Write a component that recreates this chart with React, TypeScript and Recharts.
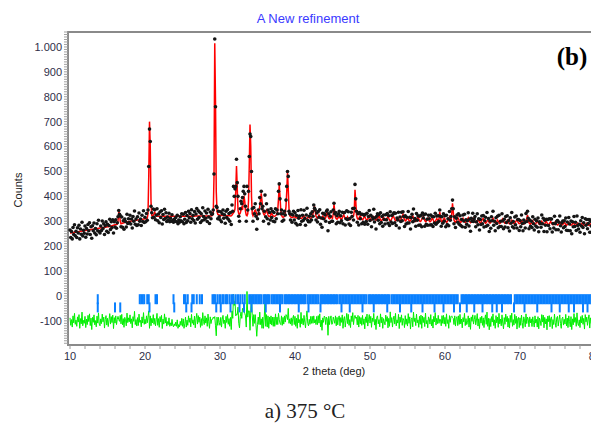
import React from 'react';
import { ComposedChart, Line, Scatter, XAxis, YAxis, ReferenceArea } from 'recharts';

// sampling grid of the pattern (2 theta, degrees)
const X_START = 10;
const X_STEP = 0.1;
const DIFF_OFFSET = -100;

// observed counts, one row per degree (10.0 .. 10.9, 11.0 .. 11.9, ...)
const observed = [
  265,235,259,229,275,247,286,242,260,235,
  274,253,284,229,269,248,296,241,264,252,
  281,236,271,249,287,262,294,247,278,232,
  282,262,293,253,271,246,290,262,304,259,
  253,281,263,301,271,290,247,282,298,260,
  288,255,283,308,267,298,275,306,253,298,
  277,306,272,294,318,343,328,322,278,317,
  276,302,268,309,299,277,328,291,310,295,
  324,289,309,273,319,300,341,288,309,283,
  318,286,333,300,309,283,324,299,342,295,
  316,298,331,304,345,520,670,620,360,334,
  314,349,316,346,306,325,350,302,329,294,
  337,315,342,289,327,307,348,311,334,299,
  317,305,332,298,312,300,326,303,296,308,
  300,315,298,324,290,305,296,318,302,330,
  298,328,290,308,335,295,323,302,340,314,
  331,296,346,310,324,303,339,293,329,351,
  308,342,315,336,295,330,302,354,319,306,
  341,312,333,299,348,317,291,337,310,328,
  330,345,490,1032,760,360,355,310,340,318,
  306,338,298,330,345,312,326,292,340,315,
  347,308,331,300,335,287,365,340,440,400,
  430,440,549,455,400,320,300,350,380,370,
  395,420,440,410,360,300,440,345,420,560,
  650,640,500,350,300,355,330,370,320,268,
  310,345,330,395,370,420,350,360,300,340,
  405,318,370,310,345,290,335,305,350,315,
  340,300,335,298,350,310,345,330,420,450,
  390,330,345,300,330,305,340,325,385,440,
  500,480,340,330,305,328,296,325,340,305,
  334,292,323,285,343,312,321,287,346,300,
  324,303,344,311,284,325,352,304,298,320,
  298,330,305,338,320,365,352,345,305,333,
  297,339,316,346,288,313,276,332,310,330,
  325,300,340,345,262,330,295,320,338,300,
  300,345,372,330,335,290,322,296,330,340,
  294,322,302,336,290,334,335,285,310,342,
  307,338,289,311,283,336,319,351,305,352,
  448,390,340,296,330,285,335,310,328,290,
  328,296,324,288,328,299,332,288,319,343,
  303,324,278,317,309,348,297,314,269,320,
  330,304,327,290,334,295,319,280,325,307,
  289,326,306,331,292,322,283,338,297,323,
  291,329,334,294,332,283,313,305,336,273,
  317,299,336,302,338,319,279,322,289,316,
  293,339,293,316,269,314,328,298,349,302,
  311,280,331,304,322,284,320,285,324,278,
  333,313,326,280,329,288,308,284,324,310,
  285,325,286,319,279,318,293,332,288,321,
  295,322,300,345,320,280,318,292,330,300,
  322,278,324,287,310,282,339,304,319,350,
  385,350,290,318,275,312,325,296,330,288,
  322,283,307,278,325,301,328,276,306,288,
  302,334,281,309,260,312,300,332,299,309,
  319,278,298,330,286,310,265,307,287,321,
  290,323,277,302,316,280,335,284,311,259,
  301,272,318,302,340,284,300,262,314,291,
  320,274,324,279,300,279,330,301,270,308,
  277,319,295,322,274,303,261,314,292,335,
  278,299,273,317,286,321,273,307,307,263,
  303,278,325,291,262,305,294,273,331,299,
  340,312,270,305,280,300,275,318,290,265,
  308,281,302,276,313,258,298,291,276,325,
  290,312,259,304,284,308,258,307,283,310,
  270,309,309,257,291,273,320,290,266,300,
  303,266,296,321,282,257,294,301,274,302,
  279,313,264,297,263,315,289,262,301,250,
  298,278,319,279,296,263,321,283,269,288,
  256,302,281,315,275,294,250,310,284,307,
  270,291,307,256,300,281,308,265,295,285,
  300,
];

// calculated (refined) profile on the same grid
const calculated = [
  253,253,254,254,255,255,256,256,257,257,
  258,258,259,259,260,260,261,261,262,262,
  263,263,264,264,265,265,266,266,267,267,
  268,268,269,269,270,270,271,271,272,272,
  273,273,274,274,275,275,276,276,277,277,
  278,278,279,279,280,281,282,283,284,285,
  286,286,287,288,300,338,330,300,290,291,
  292,293,294,295,296,297,297,298,298,299,
  300,300,301,301,302,302,303,303,304,304,
  305,305,306,306,307,307,308,308,309,309,
  310,310,311,312,330,480,700,600,380,324,
  322,324,330,336,326,321,320,320,320,320,
  320,320,320,320,320,320,320,320,320,320,
  320,320,320,320,320,320,320,320,320,320,
  320,320,320,320,320,320,320,320,320,320,
  320,320,320,320,320,320,320,320,320,320,
  320,320,320,320,320,320,320,321,321,321,
  321,321,321,321,321,321,321,321,321,321,
  321,321,321,321,321,321,321,321,321,322,
  324,330,480,1015,780,420,340,328,326,325,
  324,324,323,323,323,323,323,322,322,322,
  322,322,322,322,321,322,325,330,334,338,
  350,420,522,430,345,330,328,332,345,360,
  345,375,402,380,340,325,322,330,380,520,
  688,600,400,330,322,330,340,345,338,330,
  325,330,345,360,385,412,380,345,330,325,
  330,340,345,335,325,320,320,318,330,332,
  325,322,320,320,322,325,330,345,390,446,
  400,345,325,318,316,318,320,330,360,420,
  495,430,350,322,318,316,315,315,318,320,
  316,314,313,315,318,320,316,313,312,312,
  315,320,322,316,312,311,312,315,318,314,
  312,312,315,320,330,345,360,340,320,315,
  312,318,325,318,312,310,314,320,316,311,
  310,315,325,338,320,312,310,312,318,314,
  312,330,368,340,315,310,308,312,316,320,
  314,309,308,312,320,326,318,310,308,312,
  318,312,307,306,310,316,322,318,320,340,
  426,380,325,312,308,310,318,322,315,308,
  306,310,316,320,312,306,305,309,315,318,
  312,306,304,306,312,318,314,308,304,306,
  310,316,322,314,306,303,304,310,316,311,
  305,303,308,314,320,312,305,302,304,310,
  316,322,315,307,302,303,309,314,310,304,
  302,305,312,320,328,316,306,301,303,308,
  314,310,303,300,302,308,316,322,314,305,
  300,299,304,312,318,310,302,299,301,308,
  314,320,312,303,298,300,306,312,308,301,
  298,300,306,313,308,300,297,299,305,311,
  306,300,310,338,315,300,297,302,308,313,
  308,300,296,298,305,312,318,310,302,330,
  372,340,305,298,296,300,308,315,310,302,
  296,295,300,306,312,305,298,295,297,303,
  309,314,306,298,294,296,302,308,312,304,
  297,294,295,301,307,302,296,293,296,302,
  308,311,304,296,292,294,300,306,301,295,
  292,295,301,307,312,303,296,292,293,299,
  305,300,294,291,293,299,306,310,302,295,
  291,292,298,304,299,293,290,292,298,304,
  300,294,290,291,296,302,306,299,293,290,
  291,296,302,298,292,289,291,297,303,310,
  325,305,294,289,288,292,298,302,296,290,
  288,290,296,301,296,290,287,289,295,300,
  295,289,287,290,296,300,294,288,286,289,
  294,299,293,288,286,288,293,298,292,287,
  285,287,292,297,293,287,285,286,291,296,
  292,287,284,286,290,295,291,286,284,285,
  290,294,290,285,283,285,289,293,288,284,
  283,285,289,293,289,284,283,285,288,292,
  288,284,283,285,288,291,288,286,286,288,
  289,
];

// Bragg reflection positions (2 theta), first row of tick marks
const braggMain = [
  13.7, 19.3, 19.5, 19.7, 19.9, 20.3, 20.5, 21.4, 21.6, 23.8, 25.2, 25.4, 25.7, 26.3, 26.5, 26.9, 27.3, 27.6,
  29.0, 29.2, 29.4, 29.7, 30.0, 30.3, 30.5, 30.8, 31.0, 31.3, 31.6, 31.8, 32.1, 32.4, 32.7, 33.0, 33.3,
  33.9, 34.1, 34.3, 34.5, 34.7, 34.9, 35.1, 35.3, 35.5, 35.8, 36.0, 36.2, 36.4, 36.6, 36.9, 37.1, 37.3, 37.5,
  37.7, 37.9, 38.1, 38.3, 38.6, 38.8, 39.0, 39.2, 39.4, 39.6, 39.8, 40.0, 40.2, 40.4, 40.6, 40.8, 41.0, 41.2,
  41.4, 41.7, 41.9, 42.1, 42.3, 42.5, 42.7, 42.9, 43.1, 43.4, 43.6, 43.8, 44.0, 44.2, 44.4, 44.6, 44.8, 45.0,
  45.2, 45.4, 45.6, 45.9, 46.1, 46.3, 46.5, 46.7, 46.9, 47.1, 47.3, 47.5, 47.7, 47.9, 48.1, 48.3, 48.5, 48.7,
  48.9, 49.1, 49.3, 49.5, 49.8, 50.0, 50.2, 50.4, 50.6, 50.8, 51.0, 51.2, 51.4, 51.6, 51.8, 52.0, 52.2, 52.4,
  52.6, 52.9, 53.1, 53.3, 53.5, 53.7, 53.9, 54.1, 54.3, 54.5, 54.7, 54.9, 55.1, 55.3, 55.5, 55.7, 55.9, 56.1,
  56.3, 56.5, 56.7, 56.9, 57.1, 57.3, 57.5, 57.7, 57.9, 58.1, 58.3, 58.5, 58.7, 58.9, 59.1, 59.3, 59.5,
  59.7, 59.9, 60.1, 60.3, 60.5, 60.7, 60.9, 61.1, 61.3, 61.5, 61.7, 62.2, 62.4, 62.6, 62.8, 63.0, 63.2,
  63.4, 63.6, 63.8, 64.0, 64.2, 64.4, 64.6, 64.8, 65.0, 65.2, 65.4, 65.6, 65.8, 66.0, 66.2, 66.4, 66.6,
  66.8, 67.0, 67.2, 67.4, 67.6, 67.8, 68.0, 68.2, 68.4, 68.6, 68.8, 69.3, 69.5, 69.7, 69.9, 70.1, 70.3,
  70.5, 70.7, 70.9, 71.1, 71.3, 71.5, 71.7, 71.9, 72.1, 72.3, 72.5, 72.7, 72.9, 73.1, 73.3, 73.5, 73.7,
  73.9, 74.1, 74.3, 74.5, 74.7, 74.9, 75.1, 75.3, 75.5, 75.7, 75.9, 76.1, 76.3, 76.5, 76.7, 76.9, 77.1,
  77.3, 77.5, 77.7, 77.9, 78.1, 78.3, 78.5, 78.7, 78.9, 79.1, 79.3, 79.5, 79.7,
];

// Bragg reflection positions, second (lower) row of tick marks
const braggSecond = [
  13.7, 16.0, 16.7, 20.6, 23.9, 25.5, 26.2, 29.5, 30.1, 31.4, 32.6, 33.2, 34.2, 36.1, 38.0, 40.5, 41.8,
  43.4, 46.2, 47.3, 49.0, 50.5, 52.3, 54.0, 55.5, 57.0, 58.6, 59.8, 61.2, 62.0, 62.9, 63.9, 65.0, 66.3,
  66.9, 67.6, 69.2, 70.6, 72.3, 74.2, 75.3, 76.5, 77.2, 78.4, 79.0, 79.6,
];

const xTickValues = [10, 12, 14, 16, 18, 20, 22, 24, 26, 28, 30, 32, 34, 36, 38, 40, 42, 44, 46, 48, 50, 52, 54, 56, 58, 60, 62, 64, 66, 68, 70, 72, 74, 76, 78, 80];
const xTickLabels = [10, 20, 30, 40, 50, 60, 70, 80];
const yTickLabels = [-100, 0, 100, 200, 300, 400, 500, 600, 700, 800, 900, 1000];

const X_MIN = 9.733;
const X_MAX = 80.267;
const Y_MIN = -197;
const Y_MAX = 1060;

const yTickValues: number[] = [];
for (let v = -190; v <= 1060; v += 10) yTickValues.push(v);

const rows = observed.map((o, i) => ({
  x: Math.round((X_START + i * X_STEP) * 100) / 100,
  obs: o,
  calc: calculated[i],
  diff: o - calculated[i] + DIFF_OFFSET,
}));

const mainTicks = braggMain.map((x) => ({ x, tk: 7 }));
const secondTicks = braggSecond.map((x) => ({ x, tk: -26 }));

const sans = '"Liberation Sans", Arial, sans-serif';
const serif = '"Liberation Serif", "Times New Roman", serif';
const labelColor = '#2e2e48';

const ObsDot = (p: any) => <circle cx={p.cx} cy={p.cy} r={1.8} fill="#151515" />;
const TickMark = (p: any) => <rect x={p.cx - 1} y={p.cy} width={2} height={10} fill="#0a80ff" />;

const fmtX = (v: number) => (xTickLabels.includes(v) ? String(v) : '');
const fmtY = (v: number) => (yTickLabels.includes(v) ? (v === 1000 ? '1.000' : String(v)) : '');

export default function App() {
  return (
    <div style={{ position: 'relative', width: 599, height: 423, margin: '-8px 0 0 -8px', background: '#fff' }}>
      <ComposedChart width={599} height={423} data={rows} margin={{ top: 32, right: 2, bottom: 0, left: 0 }}>
        <XAxis
          dataKey="x"
          type="number"
          domain={[X_MIN, X_MAX]}
          allowDataOverflow
          ticks={xTickValues}
          interval={0}
          tickFormatter={fmtX}
          tick={{ fontSize: 11, fill: labelColor, fontFamily: sans }}
          tickLine={{ stroke: '#9a9a9a' }}
          tickSize={4}
          tickMargin={3}
          axisLine={false}
          height={78}
        />
        <YAxis
          type="number"
          domain={[Y_MIN, Y_MAX]}
          allowDataOverflow
          ticks={yTickValues}
          interval={0}
          tickFormatter={fmtY}
          tick={{ fontSize: 11, fill: labelColor, fontFamily: sans }}
          tickLine={{ stroke: '#a0a0a0' }}
          tickSize={4}
          tickMargin={2}
          axisLine={false}
          width={68}
        />
        <Scatter data={mainTicks} dataKey="tk" shape={TickMark} isAnimationActive={false} />
        <Scatter data={secondTicks} dataKey="tk" shape={TickMark} isAnimationActive={false} />
        <Line dataKey="diff" stroke="#00f000" strokeWidth={1} dot={false} isAnimationActive={false} />
        <Scatter data={rows} dataKey="obs" shape={ObsDot} isAnimationActive={false} />
        <Line dataKey="calc" stroke="#ff0000" strokeWidth={1.5} dot={false} isAnimationActive={false} />
        <ReferenceArea x1={X_MIN} x2={X_MAX} y1={Y_MIN} y2={Y_MAX} fill="none" stroke="#8a8a8a" strokeWidth={2} />
      </ComposedChart>
      <div style={{ position: 'absolute', left: 308, top: 18, transform: 'translate(-50%,-50%)', fontFamily: sans, fontSize: 13, color: '#3a3aff', whiteSpace: 'nowrap', lineHeight: 1 }}>
        A New refinement
      </div>
      <div style={{ position: 'absolute', left: 572, top: 56, transform: 'translate(-50%,-50%)', fontFamily: serif, fontWeight: 'bold', fontSize: 25, color: '#000', whiteSpace: 'nowrap', lineHeight: 1 }}>
        (b)
      </div>
      <div style={{ position: 'absolute', left: 18, top: 190, transform: 'translate(-50%,-50%) rotate(-90deg)', fontFamily: sans, fontSize: 11, color: '#222', whiteSpace: 'nowrap', lineHeight: 1 }}>
        Counts
      </div>
      <div style={{ position: 'absolute', left: 334, top: 371, transform: 'translate(-50%,-50%)', fontFamily: sans, fontSize: 11, color: '#222', whiteSpace: 'nowrap', lineHeight: 1 }}>
        2 theta (deg)
      </div>
      <div style={{ position: 'absolute', left: 305, top: 411, transform: 'translate(-50%,-50%)', fontFamily: serif, fontSize: 21, color: '#222', whiteSpace: 'nowrap', lineHeight: 1 }}>
        a) 375 °C
      </div>
    </div>
  );
}
